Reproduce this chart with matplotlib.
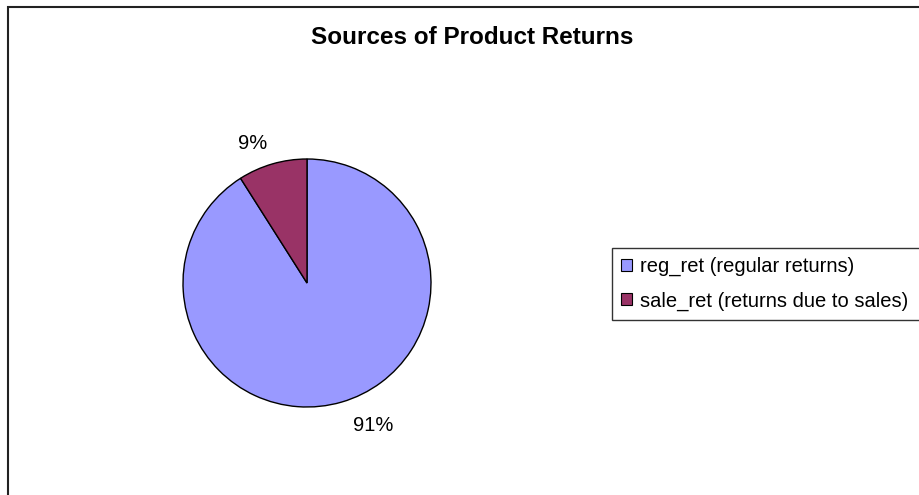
import matplotlib.pyplot as plt
from matplotlib.patches import Patch, Rectangle

plt.rcParams['font.family'] = ['Liberation Sans', 'DejaVu Sans']

labels = ["reg_ret (regular returns)", "sale_ret (returns due to sales)"]
shares = [91, 9]
colors = ["#9999FF", "#993366"]
title = "Sources of Product Returns"

W, H = 919, 495
fig = plt.figure(figsize=(W / 100, H / 100), dpi=100)

# chart area border (right/bottom edges are cropped off in the original)
fig.patches.append(Rectangle((8 / W, -0.1), 1.2, 1 - 7 / H + 0.1,
                             transform=fig.transFigure, fill=False,
                             edgecolor="#222222", linewidth=1.5))

cx, cy, r = 307, 283, 124
ax = fig.add_axes([(cx - r) / W, (H - cy - r) / H, 2 * r / W, 2 * r / H])
wedges, texts, pcts = ax.pie(shares, colors=colors, startangle=90, counterclock=False,
                             autopct="%d%%", pctdistance=1.2,
                             wedgeprops=dict(edgecolor="black", linewidth=1.0),
                             textprops=dict(fontsize=14.5, color="black"))
ax.set_xlim(-1, 1)
ax.set_ylim(-1, 1)
ax.set_aspect("equal")
ax.axis("off")

# Excel puts the labels slightly differently
x, y = pcts[0].get_position()
pcts[0].set_position((x + 0.2, y))
x, y = pcts[1].get_position()
pcts[1].set_position((x - 0.1, y - 0.03))

fig.text(472 / W, 1 - 43.5 / H, title, ha="center", va="baseline",
         fontsize=17.5, fontweight="bold")

# legend box runs off the right edge of the cropped chart
handles = [Patch(facecolor=c, edgecolor="black", linewidth=0.8) for c in colors]
leg = fig.legend(handles, labels, loc="upper left", mode="expand",
                 bbox_to_anchor=(612 / W, 1 - 248 / H - 0.2, 330 / W, 0.2),
                 fontsize=14.5, frameon=True, fancybox=False, edgecolor="black",
                 handlelength=0.55, handleheight=0.55, handletextpad=0.4,
                 labelspacing=0.75, borderpad=0.45, borderaxespad=0)
leg.get_frame().set_linewidth(1.0)

fig.savefig("out.png", dpi=100, facecolor="white")
